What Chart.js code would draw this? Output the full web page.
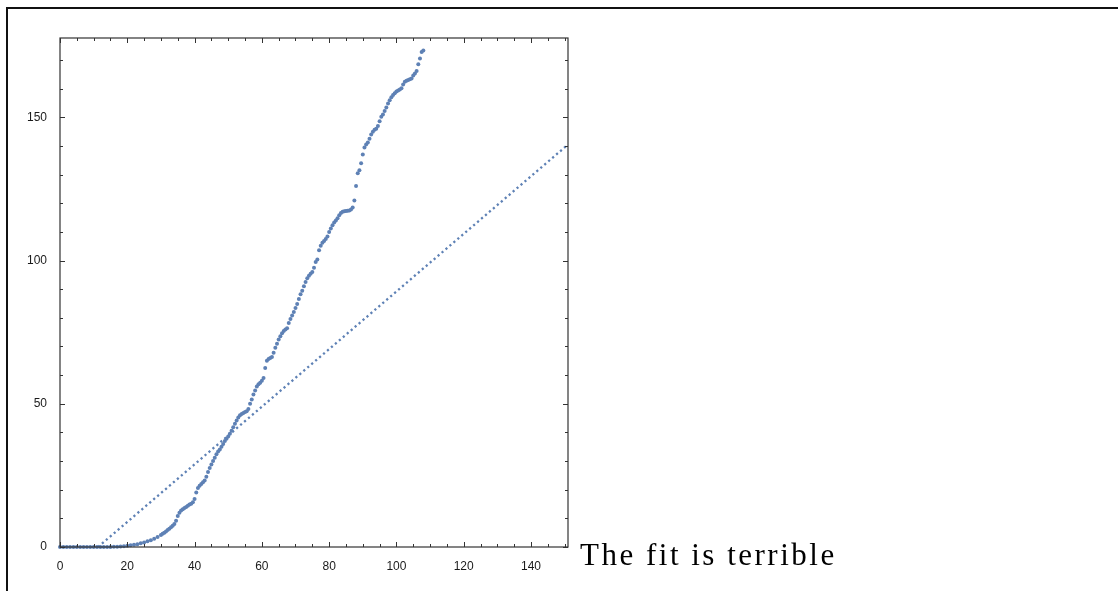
<!DOCTYPE html>
<html>
<head>
<meta charset="utf-8">
<script src="https://cdn.jsdelivr.net/npm/chart.js@4.4.1/dist/chart.umd.min.js"></script>
<style>
  html, body { margin: 0; padding: 0; background: #fff; }
  #wrap { position: relative; width: 1118px; height: 591px; overflow: hidden; }
  #frame { position: absolute; left: 6px; top: 7px; width: 1200px; height: 700px;
           border-top: 2px solid #111; border-left: 2px solid #111; }
  #myChart { position: absolute; left: 0; top: 0; }
  #caption { position: absolute; left: 580px; top: 537px; font-family: "Liberation Serif", "DejaVu Serif", serif;
             font-size: 31px; letter-spacing: 2.5px; color: #000; white-space: nowrap; }
</style>
</head>
<body>
<div id="wrap">
  <div id="frame"></div>
  <canvas id="myChart" width="1118" height="591"></canvas>
  <div id="caption">The fit is terrible</div>
</div>
<script>
// measured points
const sampleX = [
  0, 1, 2, 3, 4, 5, 6, 7, 8, 9, 10, 11, 12, 13, 14, 15, 16, 17, 18, 19, 20,
  21, 22, 23, 24, 25, 26, 27, 28, 29, 30,
  30.5, 31, 31.5, 32, 32.5, 33, 33.5, 34, 34.5, 35, 35.5, 36, 36.5, 37, 37.5, 38, 38.5, 39, 39.5, 40,
  40.5, 41, 41.5, 42, 42.5, 43, 43.5, 44, 44.5, 45, 45.5, 46, 46.5, 47, 47.5, 48, 48.5, 49, 49.5, 50,
  50.5, 51, 51.5, 52, 52.5, 53, 53.5, 54, 54.5, 55, 55.5, 56, 56.5, 57, 57.5, 58, 58.5, 59, 59.5, 60,
  60.5, 61, 61.5, 62, 62.5, 63, 63.5, 64, 64.5, 65, 65.5, 66, 66.5, 67, 67.5, 68, 68.5, 69, 69.5, 70,
  70.5, 71, 71.5, 72, 72.5, 73, 73.5, 74, 74.5, 75, 75.5, 76, 76.5, 77, 77.5, 78, 78.5, 79, 79.5, 80,
  80.5, 81, 81.5, 82, 82.5, 83, 83.5, 84, 84.5, 85, 85.5, 86, 86.5, 87, 87.5, 88, 88.5, 89, 89.5, 90,
  90.5, 91, 91.5, 92, 92.5, 93, 93.5, 94, 94.5, 95, 95.5, 96, 96.5, 97, 97.5, 98, 98.5, 99, 99.5, 100,
  100.5, 101, 101.5, 102, 102.5, 103, 103.5, 104, 104.5, 105, 105.5, 106, 106.5, 107, 107.5, 108
];
const sampleY = [
  0, 0, 0, 0, 0, 0, 0, 0, 0, 0, 0, 0, 0, 0, 0, 0, 0.05, 0.1, 0.2, 0.3, 0.4,
  0.6, 0.8, 1.0, 1.3, 1.6, 2.0, 2.4, 2.9, 3.5, 4.2,
  4.6, 5.0, 5.4, 5.9, 6.4, 6.9, 7.4, 8.0, 9.2, 10.8, 12.0, 12.7, 13.2, 13.6, 14.0, 14.4, 14.8, 15.1, 15.6, 16.8,
  19.0, 20.6, 21.4, 22.0, 22.6, 23.2, 24.5, 26.2, 27.6, 28.8, 30.0, 31.2, 32.4, 33.3, 34.0, 35.0, 36.0, 37.0, 37.8, 38.6,
  39.5, 40.6, 41.8, 43.0, 44.2, 45.2, 46.0, 46.4, 46.8, 47.1, 47.4, 48.2, 50.0, 51.5, 53.2, 54.6, 56.0, 56.8, 57.3, 58.0,
  59.0, 62.5, 65.0, 65.6, 66.0, 66.3, 67.8, 69.6, 71.0, 72.4, 73.6, 74.6, 75.4, 75.9, 76.4, 78.2, 79.6, 80.8, 82.0, 83.4,
  84.8, 86.6, 88.2, 89.5, 91.0, 92.5, 93.8, 94.7, 95.4, 96.0, 97.5, 99.5, 100.4, 103.6, 105.2, 106.2, 106.8, 107.5, 108.4, 110.0,
  111.2, 112.3, 113.3, 114.0, 114.8, 115.8, 116.6, 117.0, 117.2, 117.3, 117.4, 117.5, 117.8, 118.5, 121.0, 126.0, 130.5, 131.5, 134.0, 137.0,
  139.5, 140.5, 141.2, 142.5, 144.0, 145.0, 145.7, 146.0, 147.0, 148.6, 150.2, 151.0, 152.2, 153.4, 154.8, 156.0, 157.0, 157.8, 158.4, 159.0,
  159.4, 159.7, 160.2, 161.5, 162.4, 162.8, 163.0, 163.3, 163.6, 164.6, 165.3, 166.2, 168.5, 170.5, 172.8, 173.3
];

// fitted line end points
const fitX = [11.3, 151];
const fitY = [0, 140.5];

// axis ticks
const xMajorTicks = [0, 20, 40, 60, 80, 100, 120, 140];
const xMinorTicks = [5, 10, 15, 25, 30, 35, 45, 50, 55, 65, 70, 75, 85, 90, 95, 105, 110, 115, 125, 130, 135, 145, 150];
const yMajorTicks = [0, 50, 100, 150];
const yMinorTicks = [10, 20, 30, 40, 60, 70, 80, 90, 110, 120, 130, 140, 160, 170];

const blue = "#5E81B5";
const ctx = document.getElementById("myChart");

// inward ticks + frame, like the reference
const frameTicks = {
  id: "frameTicks",
  afterDraw(chart) {
    const c = chart.ctx;
    const a = chart.chartArea;
    const xs = chart.scales.x;
    const ys = chart.scales.y;
    c.save();
    c.strokeStyle = "#333";
    c.lineWidth = 1.2;
    c.strokeRect(a.left, a.top, a.right - a.left, a.bottom - a.top);
    c.lineWidth = 1;
    const tick = (list, len) => {
      list.forEach((v) => {
        const px = Math.round(xs.getPixelForValue(v)) + 0.5;
        if (px < a.left || px > a.right + 1) return;
        c.beginPath();
        c.moveTo(px, a.bottom); c.lineTo(px, a.bottom - len);
        c.moveTo(px, a.top); c.lineTo(px, a.top + len);
        c.stroke();
      });
    };
    const tickY = (list, len) => {
      list.forEach((v) => {
        const py = Math.round(ys.getPixelForValue(v)) + 0.5;
        if (py < a.top || py > a.bottom + 1) return;
        c.beginPath();
        c.moveTo(a.left, py); c.lineTo(a.left + len, py);
        c.moveTo(a.right, py); c.lineTo(a.right - len, py);
        c.stroke();
      });
    };
    tick(xMajorTicks, 5);
    tick(xMinorTicks, 3);
    tickY(yMajorTicks, 5);
    tickY(yMinorTicks, 3);
    c.restore();
  },
};

const chart = new Chart(ctx, {
  type: "scatter",
  data: {
    datasets: [
      {
        label: "data",
        data: sampleX.map((x, i) => ({ x: x, y: sampleY[i] })),
        backgroundColor: blue,
        borderWidth: 0,
        pointRadius: 2,
        clip: false,
      },
      {
        label: "fit",
        type: "line",
        data: fitX.map((x, i) => ({ x: x, y: fitY[i] })),
        borderColor: blue,
        borderWidth: 2.3,
        borderDash: [2.2, 3],
        pointRadius: 0,
        fill: false,
      },
    ],
  },
  plugins: [frameTicks],
  options: {
    responsive: false,
    animation: false,
    events: [],
    layout: { padding: { top: 38, right: 550, left: 0, bottom: 0 } },
    plugins: {
      legend: { display: false },
      tooltip: { enabled: false },
    },
    scales: {
      x: {
        type: "linear",
        min: 0,
        max: 151,
        grid: { display: false },
        border: { display: false },
        afterFit: (s) => { s.height = 44; },
        ticks: {
          stepSize: 20,
          includeBounds: false,
          maxRotation: 0,
          padding: 4,
          color: "#1a1a1a",
          font: { family: "Liberation Sans, Arial, sans-serif", size: 12 },
        },
      },
      y: {
        type: "linear",
        min: 0,
        max: 177.7,
        grid: { display: false },
        border: { display: false },
        afterFit: (s) => { s.width = 60; },
        ticks: {
          stepSize: 50,
          includeBounds: false,
          padding: 5,
          color: "#1a1a1a",
          font: { family: "Liberation Sans, Arial, sans-serif", size: 12 },
        },
      },
    },
  },
});
</script>
</body>
</html>
